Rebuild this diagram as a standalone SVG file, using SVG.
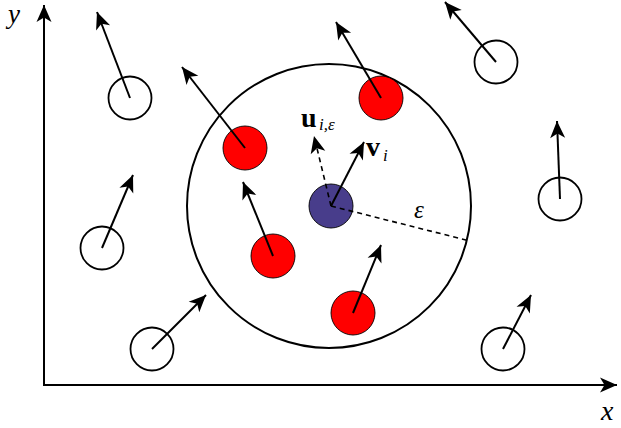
<svg xmlns="http://www.w3.org/2000/svg" width="621" height="428" viewBox="0 0 621 428">
<style>
.ln{stroke:#000;stroke-width:2;fill:none}
.arr{stroke:#000;stroke-width:2;fill:none;marker-end:url(#ah)}
.dash{stroke:#000;stroke-width:1.6;fill:none;stroke-dasharray:5,4}
.open{fill:#fff;stroke:#000;stroke-width:1.8}
.red{fill:#ff0000;stroke:#000;stroke-width:0.9}
.blue{fill:#483d8b;stroke:#000;stroke-width:0.9}
.t{font-family:"Liberation Serif","DejaVu Serif",serif;fill:#000}
</style>
<defs>
<marker id="ah" viewBox="-18 -8 19 16" refX="0" refY="0" markerWidth="19" markerHeight="16" markerUnits="userSpaceOnUse" orient="auto">
<path d="M0,0 L-17,-7.5 L-12.5,0 L-17,7.5 Z" fill="#000"/>
</marker>
</defs>
<g id="axes">
<line class="arr" x1="44" y1="385" x2="44" y2="5"/>
<line class="arr" x1="43" y1="385" x2="617" y2="385"/>
<text class="t" x="8" y="23" font-size="27" font-style="italic">y</text>
<text class="t" x="601" y="420" font-size="28" font-style="italic">x</text>
</g>
<g id="neighborhood">
<circle class="ln" cx="329" cy="206" r="142"/>
</g>
<g id="p1"><circle class="open" cx="130" cy="98" r="21.5"/></g>
<g id="p2"><circle class="red" cx="245" cy="148" r="22"/></g>
<g id="p3"><circle class="open" cx="496" cy="62" r="21.5"/></g>
<g id="p4"><circle class="open" cx="560" cy="199" r="21.5"/></g>
<g id="p5"><circle class="red" cx="381" cy="98" r="22"/></g>
<g id="p6"><circle class="red" cx="273" cy="256" r="22"/></g>
<g id="p7"><circle class="red" cx="353" cy="313" r="22"/></g>
<g id="p8"><circle class="open" cx="102" cy="248" r="21.5"/></g>
<g id="p9"><circle class="open" cx="152" cy="349" r="21.5"/></g>
<g id="p10"><circle class="open" cx="503" cy="349" r="21.5"/></g>
<g id="pi"><circle class="blue" cx="331" cy="206" r="22"/></g>
<g id="connectors">
<line class="arr" x1="130" y1="98" x2="97" y2="12"/>
<line class="arr" x1="245" y1="148" x2="182" y2="67"/>
<line class="arr" x1="496" y1="62" x2="445" y2="2"/>
<line class="arr" x1="560" y1="199" x2="557" y2="121"/>
<line class="arr" x1="381" y1="98" x2="336" y2="22"/>
<line class="arr" x1="273" y1="256" x2="243" y2="182"/>
<line class="arr" x1="353" y1="313" x2="381" y2="245"/>
<line class="arr" x1="102" y1="248" x2="133" y2="175"/>
<line class="arr" x1="152" y1="349" x2="206" y2="295"/>
<line class="arr" x1="503" y1="349" x2="531" y2="295"/>
<line class="arr" x1="331" y1="206" x2="364" y2="142"/>
<line class="dash" x1="331" y1="206" x2="314" y2="136" marker-end="url(#ah)"/>
<line class="dash" x1="331" y1="206" x2="470" y2="241"/>
</g>
<g id="labels">
<text class="t" x="301" y="127" font-size="28" font-weight="bold">u</text>
<text class="t" x="319" y="130" font-size="17" font-style="italic">i,ε</text>
<text class="t" x="366" y="156" font-size="28" font-weight="bold">v</text>
<text class="t" x="383" y="161" font-size="17" font-style="italic">i</text>
<text class="t" x="414" y="218" font-size="25" font-style="italic" fill="#444">ε</text>
</g>
</svg>
